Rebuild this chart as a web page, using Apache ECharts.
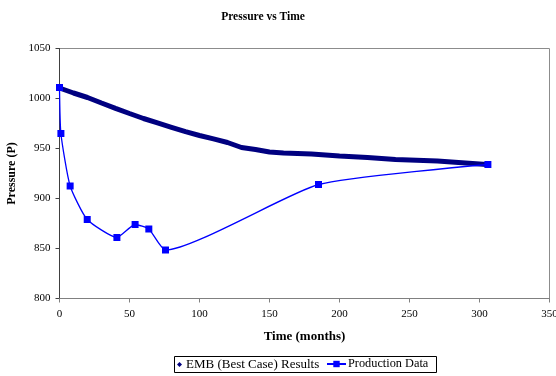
<!DOCTYPE html>
<html>
<head>
<meta charset="utf-8">
<script src="https://cdn.jsdelivr.net/npm/echarts@6/dist/echarts.min.js"></script>
<style>
  html, body { margin: 0; padding: 0; background: #fff; }
  #chart { width: 556px; height: 376px; }
</style>
</head>
<body>
<div id="chart"></div>
<script>
// Simulated reservoir pressure (EMB best case), months vs psi
const embMonths = [0, 10, 20, 30, 40, 50, 60, 70, 80, 90, 100, 110, 120, 130, 140, 150,
  160, 170, 180, 190, 200, 210, 220, 230, 240, 250, 260, 270, 280, 290, 300, 305];
const embPressure = [1010.5, 1005.5, 1001, 995.5, 990.2, 985, 980, 975.6, 971.2, 966.8, 963, 959.6, 956, 951, 949, 946.5,
  945.5, 945, 944.5, 943.5, 942.5, 941.8, 941, 940, 939, 938.5, 938, 937.5, 936.5, 935.5, 934.5, 934];

// Measured production data
const prodMonths = [0, 1, 7.6, 19.8, 41, 54, 63.8, 75.7, 185, 306];
const prodPressure = [1011, 965, 912.5, 879, 861, 874, 869.5, 848.5, 914, 934];

// Axis ranges
const xTicks = { min: 0, max: 350, step: 50 };
const yTicks = { min: 800, max: 1050, step: 50 };

const serif = 'Liberation Serif, Times New Roman, serif';

const chart = echarts.init(document.getElementById('chart'), null, { renderer: 'canvas' });

chart.setOption({
  animation: false,
  backgroundColor: '#fff',
  title: {
    text: 'Pressure vs Time',
    left: 258,
    top: 6,
    textAlign: 'center',
    textStyle: { fontFamily: serif, fontSize: 11.5, fontWeight: 'bold', color: '#000' }
  },
  grid: {
    left: 59.5, right: 6.5, top: 48.5, bottom: 77.5,
    outerBoundsMode: 'none',
    containLabel: false,
    show: true, borderColor: '#8c8c8c', borderWidth: 1, backgroundColor: 'transparent'
  },
  legend: [
    {
      left: 177, top: 358, itemWidth: 5, itemHeight: 5, itemGap: 3,
      data: [{ name: 'EMB (Best Case) Results', icon: 'diamond' }],
      textStyle: { fontFamily: serif, fontSize: 13, color: '#000', padding: [0, 0, 0, -1] },
      padding: 0
    },
    {
      left: 326, top: 358, itemWidth: 19, itemHeight: 8, itemGap: 4,
      data: ['Production Data'],
      textStyle: { fontFamily: serif, fontSize: 12.3, color: '#000', padding: [0, 0, 0, -3] },
      padding: 0
    }
  ],
  graphic: [{
    type: 'rect',
    shape: { x: 174.5, y: 356.5, width: 262, height: 16 },
    style: { fill: 'none', stroke: '#000', lineWidth: 1 },
    silent: true, z: -1
  }],
  xAxis: {
    type: 'value',
    min: xTicks.min, max: xTicks.max, interval: xTicks.step,
    name: 'Time (months)',
    nameLocation: 'middle', nameGap: 32,
    nameTextStyle: { fontFamily: serif, fontSize: 13, fontWeight: 'bold', color: '#000' },
    axisLine: { onZero: false, lineStyle: { color: '#808080', width: 1 } },
    axisTick: { show: true, length: 4, inside: false, lineStyle: { color: '#808080' } },
    axisLabel: { margin: 10, fontFamily: serif, fontSize: 11, color: '#000' },
    splitLine: { show: false }
  },
  yAxis: {
    type: 'value',
    min: yTicks.min, max: yTicks.max, interval: yTicks.step,
    name: 'Pressure (P)',
    nameLocation: 'middle', nameGap: 38, nameRotate: 90,
    nameTextStyle: { fontFamily: serif, fontSize: 12, fontWeight: 'bold', color: '#000' },
    axisLine: { show: true, onZero: false, lineStyle: { color: '#404040', width: 1 } },
    axisTick: { show: true, length: 4, inside: false, lineStyle: { color: '#404040' } },
    axisLabel: { margin: 9, fontFamily: serif, fontSize: 11, color: '#000', formatter: v => String(v) },
    splitLine: { show: false }
  },
  series: [
    {
      name: 'EMB (Best Case) Results',
      type: 'line',
      data: embMonths.map((m, i) => [m, embPressure[i]]),
      showSymbol: false,
      symbol: 'diamond',
      lineStyle: { color: '#000080', width: 5 },
      itemStyle: { color: '#000080' },
      z: 2
    },
    {
      name: 'Production Data',
      type: 'line',
      data: prodMonths.map((m, i) => [m, prodPressure[i]]),
      smooth: 0.18,
      symbol: 'rect',
      symbolSize: 7,
      lineStyle: { color: '#0000ff', width: 1.3 },
      itemStyle: { color: '#0000ff' },
      z: 3
    }
  ]
});
</script>
</body>
</html>
